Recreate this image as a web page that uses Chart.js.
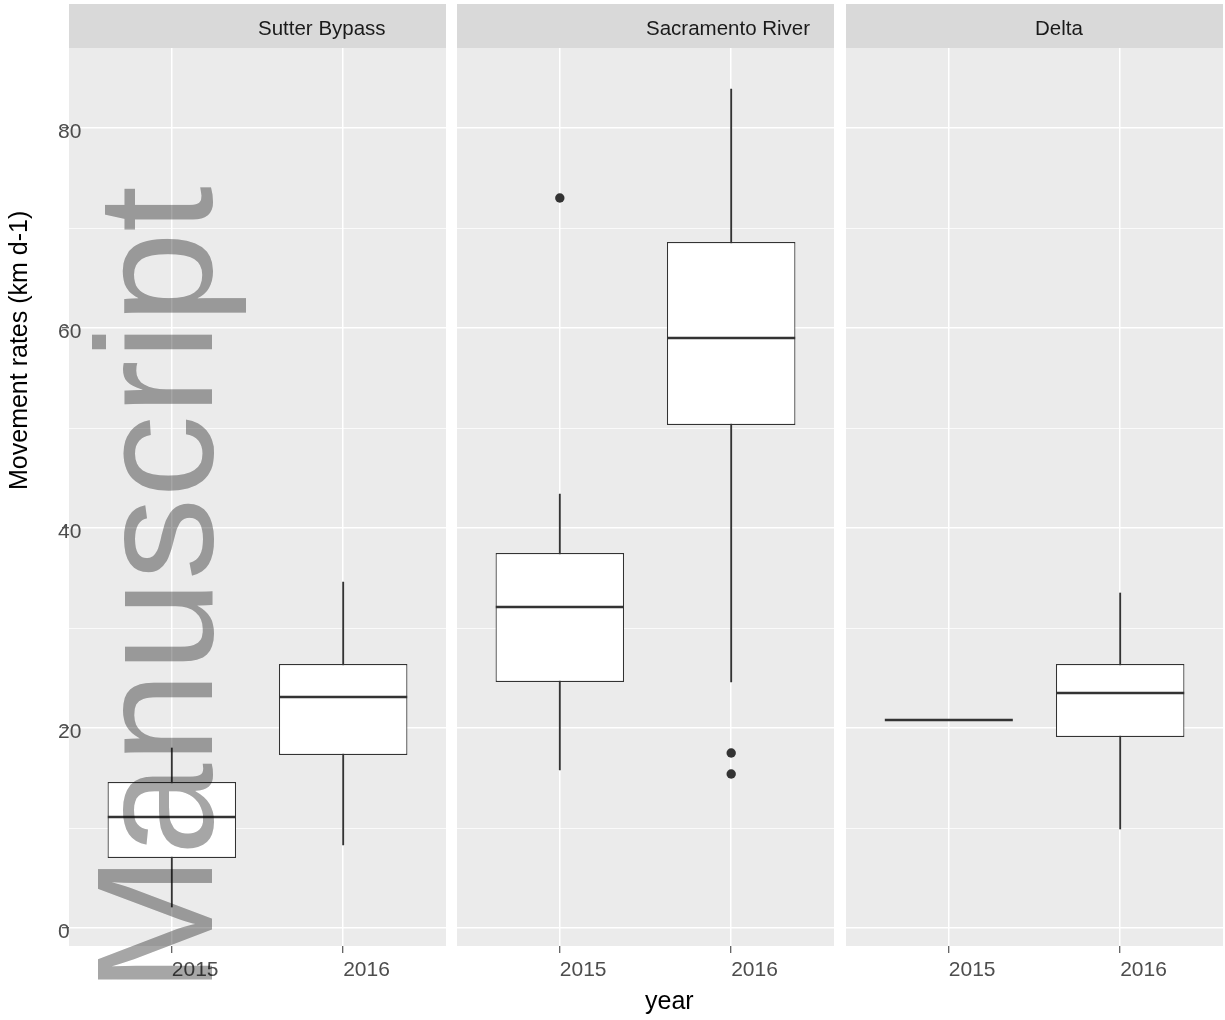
<!DOCTYPE html>
<html>
<head>
<meta charset="utf-8">
<title>Movement rates by year</title>
<script src="https://cdn.jsdelivr.net/npm/chart.js@4.4.1/dist/chart.umd.min.js"></script>
<style>
  html, body { margin: 0; padding: 0; background: #fff; }
  #page { position: relative; width: 1225px; height: 1020px; overflow: hidden;
          font-family: "Liberation Sans", Arial, sans-serif; }
  #page canvas { position: absolute; top: 0; }
  .strip { position: absolute; top: 4px; height: 44px; width: 377px; background: #d9d9d9; }
  .strip span { position: absolute; top: 14.2px; left: 189px; font-size: 20.5px; line-height: 20.5px;
                color: #1a1a1a; white-space: nowrap; }
  .title { position: absolute; left: 0; top: 0; font-size: 25px; line-height: 25px; color: #000;
           white-space: nowrap; transform-origin: 0 0; }
  #watermark { position: absolute; left: 0; top: 0; font-size: 165px; line-height: 165px;
               color: #a6a6a6; white-space: nowrap; transform-origin: 0 0;
               transform: translate(73px, 993px) rotate(-90deg); mix-blend-mode: multiply;
               pointer-events: none; }
</style>
</head>
<body>
<div id="page">
  <span class="title" id="ytitle" style="transform: translate(6px, 490px) rotate(-90deg);">Movement rates (km d-1)</span>
  <span class="title" id="xtitle" style="left: 645px; top: 988px;">year</span>
</div>
<script>
    "use strict";

    // boxplot statistics per site (rows) and year (columns)
    var years = ['2015', '2016'];
    var sites = ['Sutter Bypass', 'Sacramento River', 'Delta'];
    var lowerWhisker = [[2.1, 8.3], [15.8, 24.6], [20.8, 9.9]];
    var lowerQuartile = [[7.0, 17.3], [24.6, 50.3], [20.8, 19.1]];
    var medians = [[11.1, 23.1], [32.1, 59.0], [20.8, 23.5]];
    var upperQuartile = [[14.6, 26.4], [37.5, 68.6], [20.8, 26.4]];
    var upperWhisker = [[18.0, 34.6], [43.4, 83.9], [20.8, 33.5]];
    var outliers = [[[], []], [[73.0], [17.5, 15.4]], [[], []]];
    var yTicks = [0, 20, 40, 60, 80];
    var yMin = -1.8, yMax = 88;

    var page = document.getElementById('page');
    var tickFont = { family: '"Liberation Sans", Arial, sans-serif', size: 21 };

    var panelBackground = {
        id: 'panelBackground',
        beforeDraw: function (chart) {
            var a = chart.chartArea, ctx = chart.ctx;
            ctx.save();
            ctx.fillStyle = '#ebebeb';
            ctx.fillRect(a.left, a.top, a.right - a.left, a.bottom - a.top);
            ctx.restore();
        }
    };

    function isMajor(v) { return yTicks.indexOf(v) >= 0; }

    function perYear(fn) {
        return years.map(function (_, i) { return fn(i); });
    }

    function makePanel(k, left, width, withAxis) {
        var strip = document.createElement('div');
        strip.className = 'strip';
        strip.style.left = (left + (withAxis ? 69 : 0)) + 'px';
        var label = document.createElement('span');
        label.textContent = sites[k];
        strip.appendChild(label);
        page.appendChild(strip);

        var canvas = document.createElement('canvas');
        canvas.width = width;
        canvas.height = 1020;
        canvas.style.left = left + 'px';
        page.insertBefore(canvas, page.firstChild);

        var boxes = perYear(function (i) { return { x: i + 1, y: [lowerQuartile[k][i], upperQuartile[k][i]] }; });
        var whiskers = perYear(function (i) { return { x: i + 1, y: [lowerWhisker[k][i], upperWhisker[k][i]] }; });
        var mids = perYear(function (i) { return { x: i + 1, y: medians[k][i] }; });
        var points = [];
        outliers[k].forEach(function (list, i) {
            list.forEach(function (v) { points.push({ x: i + 1, y: v }); });
        });

        new Chart(canvas, {
            type: 'bar',
            data: {
                datasets: [{
                    type: 'scatter', data: points, order: 0,
                    pointRadius: 4.7, pointBackgroundColor: '#333333',
                    pointBorderColor: '#333333', pointBorderWidth: 0
                }, {
                    type: 'scatter', data: mids, order: 1,
                    pointStyle: 'line', pointRadius: 64,
                    pointBorderColor: '#333333', pointBorderWidth: 2.6
                }, {
                    data: boxes, order: 2, grouped: false,
                    categoryPercentage: 1, barPercentage: 0.75,
                    backgroundColor: '#ffffff', borderColor: '#333333',
                    borderWidth: 1.2, borderSkipped: false
                }, {
                    data: whiskers, order: 3, grouped: false,
                    categoryPercentage: 1, barPercentage: 1, maxBarThickness: 1.2,
                    backgroundColor: '#333333', borderWidth: 0
                }]
            },
            options: {
                responsive: false,
                animation: false,
                devicePixelRatio: 1,
                events: [],
                layout: { autoPadding: false, padding: { left: withAxis ? 58 : 0, top: 48, right: 0, bottom: 34 } },
                plugins: { legend: { display: false }, tooltip: { enabled: false } },
                scales: {
                    x: {
                        type: 'linear', min: 0.4, max: 2.6, offset: false,
                        afterBuildTicks: function (s) {
                            s.ticks = years.map(function (_, i) { return { value: i + 1 }; });
                        },
                        afterFit: function (s) { s.height = 40; },
                        ticks: {
                            align: 'start', padding: 5, color: '#4d4d4d', font: tickFont,
                            autoSkip: false, maxRotation: 0,
                            callback: function (v) { return years[v - 1]; }
                        },
                        grid: { offset: false, color: '#ffffff', lineWidth: 1.5,
                                tickColor: '#333333', tickLength: 7, tickWidth: 1 },
                        border: { display: false }
                    },
                    y: {
                        type: 'linear', min: yMin, max: yMax,
                        afterBuildTicks: function (s) {
                            var t = [];
                            yTicks.forEach(function (m, i) {
                                t.push({ value: m });
                                var step = i + 1 < yTicks.length ? yTicks[i + 1] - m : yTicks[1] - yTicks[0];
                                if (m + step / 2 <= yMax) t.push({ value: m + step / 2 });
                            });
                            s.ticks = t;
                        },
                        afterFit: function (s) { s.width = withAxis ? 11 : 0; },
                        ticks: {
                            // mirrored so labels may run into the panel like the original
                            display: withAxis, mirror: true, crossAlign: 'near', padding: -11,
                            labelOffset: 4.5, color: '#4d4d4d', font: tickFont,
                            callback: function (v) { return isMajor(v) ? String(v) : ''; }
                        },
                        grid: {
                            color: '#ffffff',
                            lineWidth: function (c) { return isMajor(c.tick.value) ? 1.5 : 0.75; },
                            drawTicks: withAxis, tickLength: 7, tickWidth: 1,
                            tickColor: function (c) { return isMajor(c.tick.value) ? '#333333' : 'rgba(0,0,0,0)'; }
                        },
                        border: { display: false }
                    }
                }
            },
            plugins: [panelBackground]
        });
    }

    makePanel(0, 0, 446, true);
    makePanel(1, 457, 377, false);
    makePanel(2, 846, 377, false);

    var mark = document.createElement('span');
    mark.id = 'watermark';
    mark.textContent = 'Manuscript';
    page.appendChild(mark);
</script>
</body>
</html>
